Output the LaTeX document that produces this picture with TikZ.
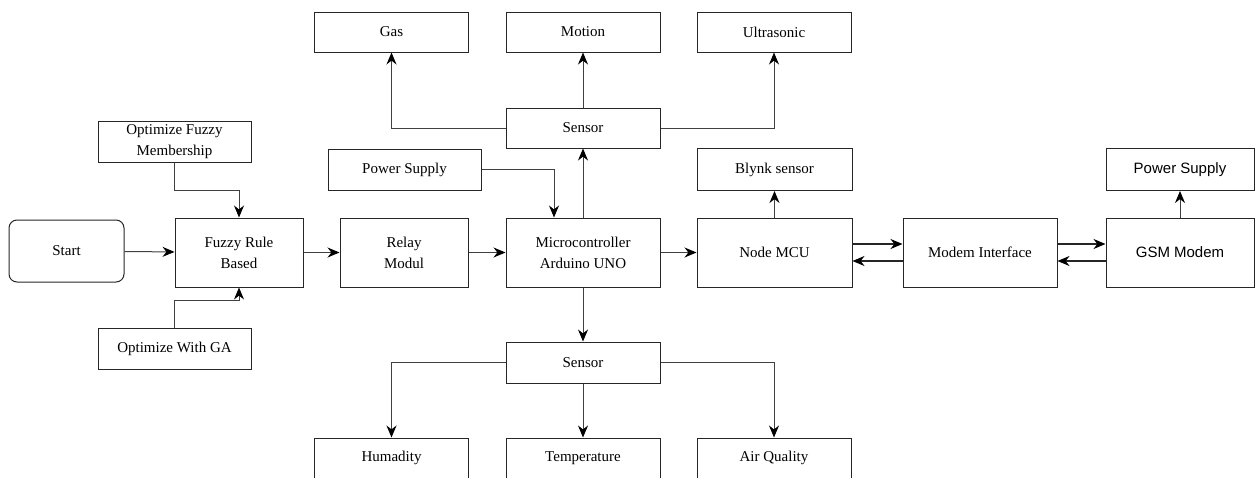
\documentclass[tikz,border=0pt]{standalone}
\usepackage{fontspec}
\setmainfont{Liberation Serif}
\newfontfamily\arialfont{Liberation Sans}
\usetikzlibrary{arrows.meta,positioning,calc}

\tikzset{
  blk/.style={draw=black!85, line width=1pt, inner sep=0pt, align=center,
    minimum width=154pt, minimum height=41pt, font=\fontsize{15}{21}\selectfont},
  bigblk/.style={blk, minimum height=69pt},
  conn/.style={draw=black!75, line width=1pt, -{Stealth[length=12pt,width=10pt,black]}},
  dblconn/.style={conn, draw=black!85, line width=1.5pt}
}

\begin{document}
\begin{tikzpicture}[x=1pt,y=-1pt]
    \useasboundingbox (0,0) rectangle (1256,477);
    % main row
    \node[bigblk, rounded corners=8pt, minimum width=115pt, minimum height=62pt] (start) at (66.5,251) {Start};
    \node[bigblk, minimum width=128pt] (fuzzy) at (239,252.5) {Fuzzy Rule\\Based};
    \node[bigblk, minimum width=128pt] (relay) at (404,252.5) {Relay\\Modul};
    \node[bigblk] (micro) at (583,252.5) {Microcontroller\\Arduino UNO};
    \node[bigblk, minimum width=155pt] (nodemcu) at (774.5,252.5) {Node MCU};
    \node[bigblk] (modem) at (980,252.5) {Modem Interface};
    \node[bigblk, minimum width=148pt, font=\arialfont\fontsize{15}{21}\selectfont] (gsm) at (1180,252.5) {GSM Modem};
    % optimisation
    \node[blk, minimum width=153pt] (optfuzzy) at (174.5,141.5) {Optimize Fuzzy\\Membership};
    \node[blk, minimum width=153pt] (optga) at (174.5,348.5) {Optimize With GA};
    \node[blk, minimum width=153pt] (psleft) at (404.5,169.5) {Power Supply};
    % upper sensors
    \node[blk, minimum height=40pt] (sensup) at (583,128) {Sensor};
    \node[blk, minimum height=40pt] (gas) at (391.5,32) {Gas};
    \node[blk, minimum height=40pt] (motion) at (583,32) {Motion};
    \node[blk, minimum height=40pt] (ultra) at (774,32) {Ultrasonic};
    % lower sensors
    \node[blk] (sensdown) at (583,362.5) {Sensor};
    \node[blk, minimum height=40pt] (humid) at (391.5,458) {Humadity};
    \node[blk, minimum height=40pt] (temp) at (583,458) {Temperature};
    \node[blk, minimum height=40pt] (air) at (774,458) {Air Quality};
    % right side
    \node[blk, minimum width=155pt, minimum height=42pt] (blynk) at (774.5,169.5) {Blynk sensor};
    \node[blk, minimum width=148pt, minimum height=42pt, font=\arialfont\fontsize{15}{21}\selectfont] (psright) at (1180,169.5) {Power Supply};

    \draw[conn] (start) -- (fuzzy);
    \draw[conn] (fuzzy) -- (relay);
    \draw[conn] (relay) -- (micro);
    \draw[conn] (micro) -- (nodemcu);
    \draw[conn] (optfuzzy.south) -- ++(0,28) -| (fuzzy.north);
    \draw[conn] (optga.north) -- ++(0,-27) -| (fuzzy.south);
    \draw[conn] (psleft.east) -| ([xshift=-29pt]micro.north);
    \draw[conn] (micro.north) -- (sensup.south);
    \draw[conn] (sensup.west) -| (gas.south);
    \draw[conn] (sensup.north) -- (motion.south);
    \draw[conn] (sensup.east) -| (ultra.south);
    \draw[conn] (micro.south) -- (sensdown.north);
    \draw[conn] (sensdown.west) -| (humid.north);
    \draw[conn] (sensdown.south) -- (temp.north);
    \draw[conn] (sensdown.east) -| (air.north);
    \draw[conn] (nodemcu.north) -- (blynk.south);
    \draw[conn] (gsm.north) -- (psright.south);
    \draw[dblconn] ([yshift=8.5pt]nodemcu.east) -- ([yshift=8.5pt]modem.west);
    \draw[dblconn] ([yshift=-8.5pt]modem.west) -- ([yshift=-8.5pt]nodemcu.east);
    \draw[dblconn] ([yshift=8.5pt]modem.east) -- ([yshift=8.5pt]gsm.west);
    \draw[dblconn] ([yshift=-8.5pt]gsm.west) -- ([yshift=-8.5pt]modem.east);
\end{tikzpicture}
\end{document}
